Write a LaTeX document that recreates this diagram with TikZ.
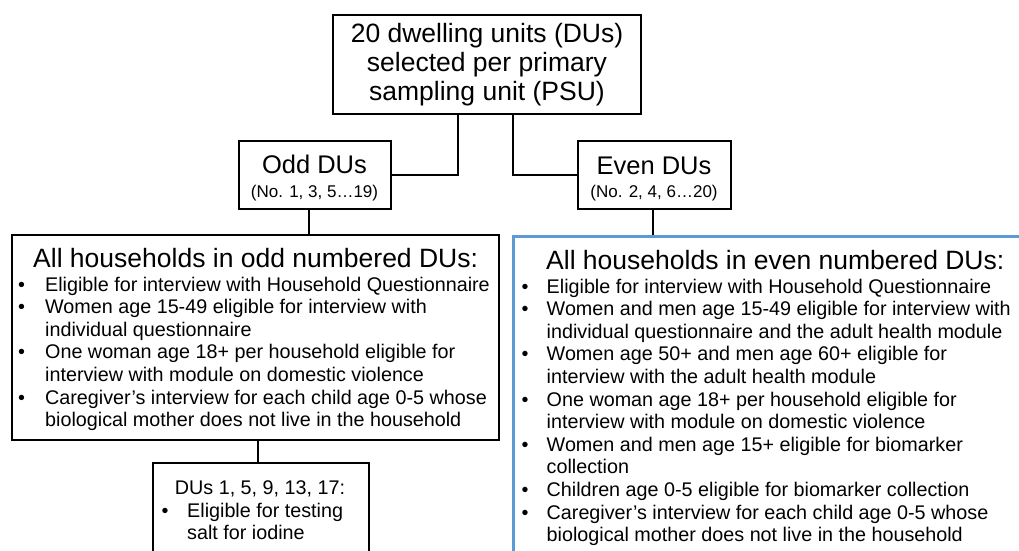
\documentclass[tikz,border=0pt]{standalone}
\usepackage{fontspec}
\setmainfont{Liberation Sans}
\definecolor{boxblue}{HTML}{5B9BD5}
\newcommand{\bl}[1]{\makebox[#1][l]{•}}
\begin{document}
\begin{tikzpicture}[x=1pt,y=-1pt,
  box/.style={draw=black,line width=2pt,rectangle,inner sep=0pt,fill=white},
  bigfont/.style={font=\fontsize{26.5}{29}\selectfont},
  midfont/.style={font=\fontsize{25.5}{29}\selectfont},
  smallfont/.style={font=\fontsize{17}{20}\selectfont},
  listfont/.style={font=\fontsize{19.75}{22.6}\selectfont},
  conn/.style={draw=black,line width=2pt}]
\useasboundingbox (0,0) rectangle (1019,550);
\clip (0,0) rectangle (1019,550);
\fill[white] (0,0) rectangle (1019,550);

% boxes
\node[box,minimum width=308pt,minimum height=99pt,align=center,bigfont] (top) at (487,64.5)
  {20 dwelling units (DUs)\\selected per primary\\sampling unit (PSU)};
\node[box,minimum width=152pt,minimum height=68pt] (odd) at (315,175) {};
\node[box,minimum width=153pt,minimum height=68pt] (even) at (654.5,175) {};
\node[box,line width=2.2pt,minimum width=487pt,minimum height=205pt] (oddall) at (255.5,337.5) {};
\node[box,draw=boxblue,line width=3pt,minimum width=517pt,minimum height=324pt] (evenall) at (771.5,398) {};
\node[box,minimum width=216pt,minimum height=107pt] (salt) at (261,516.5) {};

% connectors
\coordinate (t1) at (458,114);
\coordinate (t2) at (513,114);
\coordinate (o1) at (309,209);
\coordinate (e1) at (653,209);
\coordinate (oa1) at (258,440);
\draw[conn] (t1) |- (odd.east);
\draw[conn] (t2) |- (even.west);
\draw[conn] (o1) -- (o1 |- oddall.north);
\draw[conn] (e1) -- (e1 |- evenall.north);
\draw[conn] (oa1) -- (oa1 |- salt.north);

% labels of odd / even
\node[midfont,anchor=base,inner sep=0pt] (oddt) at (314.5,173) {Odd DUs};
\node[smallfont,anchor=base,inner sep=0pt] (odds) at (314.5,197) {(No. 1, 3, 5…19)};
\node[midfont,anchor=base,inner sep=0pt] (event) at (654,174) {Even DUs};
\node[smallfont,anchor=base,inner sep=0pt] (evens) at (654,197) {(No. 2, 4, 6…20)};

% odd households
\node[bigfont,anchor=base west,inner sep=0pt] (oddtitle) at (33,267) {All households in odd numbered DUs:};
\node[listfont,anchor=base west,inner sep=0pt] (oddlist) at (18,291) {%
\begin{tabular}[t]{@{}l@{}l@{}}
\bl{27pt} & Eligible for interview with Household Questionnaire\\
\bl{27pt} & Women age 15-49 eligible for interview with\\
 & individual questionnaire\\
\bl{27pt} & One woman age 18+ per household eligible for\\
 & interview with module on domestic violence\\
\bl{27pt} & Caregiver’s interview for each child age 0-5 whose\\
 & biological mother does not live in the household
\end{tabular}};

% even households
\node[bigfont,anchor=base west,inner sep=0pt] (eventitle) at (546,269) {All households in even numbered DUs:};
\node[listfont,anchor=base west,inner sep=0pt] (evenlist) at (521.5,293) {%
\begin{tabular}[t]{@{}l@{}l@{}}
\bl{25pt} & Eligible for interview with Household Questionnaire\\
\bl{25pt} & Women and men age 15-49 eligible for interview with\\
 & individual questionnaire and the adult health module\\
\bl{25pt} & Women age 50+ and men age 60+ eligible for\\
 & interview with the adult health module\\
\bl{25pt} & One woman age 18+ per household eligible for\\
 & interview with module on domestic violence\\
\bl{25pt} & Women and men age 15+ eligible for biomarker\\
 & collection\\
\bl{25pt} & Children age 0-5 eligible for biomarker collection\\
\bl{25pt} & Caregiver’s interview for each child age 0-5 whose\\
 & biological mother does not live in the household
\end{tabular}};

% salt box
\node[listfont,anchor=base,inner sep=0pt] (salttitle) at (260,494) {DUs 1, 5, 9, 13, 17:};
\node[listfont,anchor=base west,inner sep=0pt] (saltlist) at (161.5,517) {%
\begin{tabular}[t]{@{}l@{}l@{}}
\bl{25.5pt} & Eligible for testing\\
 & salt for iodine
\end{tabular}};
\end{tikzpicture}
\end{document}
